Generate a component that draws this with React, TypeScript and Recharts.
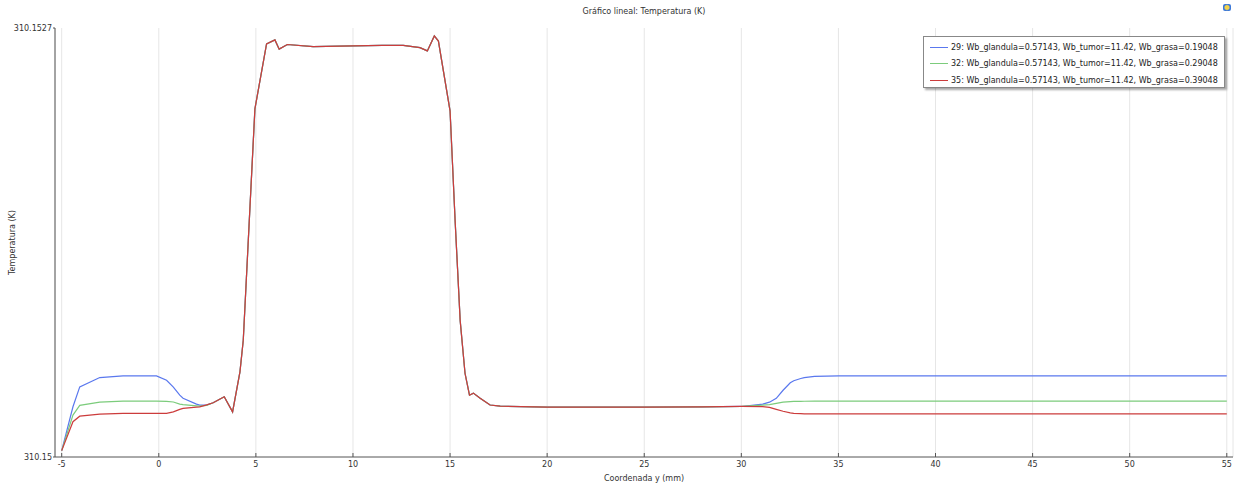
import React from 'react';
import { LineChart, Line, XAxis, YAxis, CartesianGrid } from 'recharts';

// y coordinate (mm)
const coordY = [
  -5, -4.42, -4.07, -3.04, -1.84, -0.12, 0.4, 0.75, 1.08, 1.25, 1.94, 2.11, 2.46, 2.8, 3.37, 3.8,
  4.18, 4.35, 4.6, 4.95, 5.55, 5.98, 6.2, 6.62, 7.95, 10.02, 11.5, 12.59, 13.45, 13.83, 14.19, 14.4,
  15.0, 15.26, 15.52, 15.77, 16.0, 16.2, 16.55, 17.06, 17.58, 20, 25, 28, 30,
  31.1, 31.45, 31.8, 32.15, 32.52, 32.7, 33.06, 33.24, 33.77, 35.02, 55,
];

// temperatura (K) por caso
const temp29 = [
  310.15004, 310.150316, 310.150441, 310.1505, 310.15051, 310.15051, 310.150483, 310.15044, 310.150389, 310.15037, 310.150333, 310.150327, 310.150327, 310.150341, 310.150379, 310.150284,
  310.150536, 310.150735, 310.15134, 310.152191, 310.1526, 310.152625, 310.152567, 310.152596, 310.152583, 310.152587, 310.152591, 310.152591, 310.152576, 310.152556, 310.15265, 310.152618,
  310.152179, 310.151488, 310.15086, 310.150527, 310.150389, 310.150402, 310.15037, 310.150327, 310.15032, 310.150314, 310.150314, 310.150316, 310.150318,
  310.150333, 310.150345, 310.150369, 310.15042, 310.150467, 310.15048, 310.150494, 310.1505, 310.150507, 310.15051, 310.15051,
];
const temp32 = [
  310.15004, 310.150264, 310.150325, 310.150345, 310.150352, 310.150352, 310.15035, 310.150346, 310.150333, 310.15033, 310.150322, 310.15032, 310.150325, 310.150341, 310.150379, 310.150284,
  310.150536, 310.150735, 310.15134, 310.152191, 310.1526, 310.152625, 310.152567, 310.152596, 310.152583, 310.152587, 310.152591, 310.152591, 310.152576, 310.152556, 310.15265, 310.152618,
  310.152179, 310.151488, 310.15086, 310.150527, 310.150389, 310.150402, 310.15037, 310.150327, 310.15032, 310.150314, 310.150314, 310.150316, 310.150318,
  310.150326, 310.15033, 310.150338, 310.150345, 310.150349, 310.15035, 310.15035, 310.150351, 310.150352, 310.150352, 310.150352,
];
const temp35 = [
  310.15004, 310.150222, 310.150257, 310.15027, 310.150274, 310.150274, 310.150275, 310.150284, 310.1503, 310.150306, 310.150314, 310.150316, 310.150328, 310.150341, 310.150379, 310.150284,
  310.150536, 310.150735, 310.15134, 310.152191, 310.1526, 310.152625, 310.152567, 310.152596, 310.152583, 310.152587, 310.152591, 310.152591, 310.152576, 310.152556, 310.15265, 310.152618,
  310.152179, 310.151488, 310.15086, 310.150527, 310.150389, 310.150402, 310.15037, 310.150327, 310.15032, 310.150314, 310.150314, 310.150316, 310.150318,
  310.150317, 310.150312, 310.1503, 310.150288, 310.150278, 310.150275, 310.150273, 310.150272, 310.150272, 310.150272, 310.150272,
];

const xTicks = [-5, 0, 5, 10, 15, 20, 25, 30, 35, 40, 45, 50, 55];
const yTicks = [310.15, 310.1527];
const yTickLabels = ['310.15', '310.1527'];

const series = [
  { key: 't29', name: '29: Wb_glandula=0.57143, Wb_tumor=11.42, Wb_grasa=0.19048', color: '#5a78ee' },
  { key: 't32', name: '32: Wb_glandula=0.57143, Wb_tumor=11.42, Wb_grasa=0.29048', color: '#7ccc7c' },
  { key: 't35', name: '35: Wb_glandula=0.57143, Wb_tumor=11.42, Wb_grasa=0.39048', color: '#cc3c3c' },
];

const data = coordY.map((y, i) => ({ y, t29: temp29[i], t32: temp32[i], t35: temp35[i] }));

const font = '"DejaVu Sans", sans-serif';
const axisColor = '#555';
const tickStyle = { fontSize: 8, fill: '#333', fontFamily: font };

const App = () => {
  return (
    <div style={{ position: 'absolute', left: 0, top: 0, width: 1241, height: 485, background: '#fff', fontFamily: font }}>
      <div style={{ position: 'absolute', left: 0, top: 7, width: 1288, textAlign: 'center', fontSize: 8, color: '#333' }}>
        Gráfico lineal: Temperatura (K)
      </div>
      <div style={{
        position: 'absolute', left: 1223, top: 4, width: 8, height: 7, borderRadius: 2,
        background: 'radial-gradient(circle, #f2d24a 35%, #3b78d8 60%)',
      }} />
      <LineChart width={1241} height={485} data={data} margin={{ top: 28, right: 8, bottom: 0, left: 0 }}>
        <CartesianGrid horizontal={false} stroke="#e6e6e6" />
        <XAxis
          dataKey="y"
          type="number"
          domain={[-5.345, 55.32]}
          ticks={xTicks}
          allowDataOverflow
          height={28}
          stroke={axisColor}
          tickSize={-4}
          tickMargin={8}
          tick={tickStyle}
          label={{ value: 'Coordenada y (mm)', position: 'insideBottom', offset: 4, style: { fontSize: 8, fill: '#333', fontFamily: font } }}
        />
        <XAxis
          xAxisId="top"
          orientation="top"
          dataKey="y"
          type="number"
          domain={[-5.345, 55.32]}
          ticks={xTicks}
          allowDataOverflow
          height={0}
          stroke={axisColor}
          tickSize={-4}
          tickFormatter={() => ''}
        />
        <YAxis
          type="number"
          domain={[310.15, 310.1527]}
          ticks={yTicks}
          allowDataOverflow
          width={55}
          stroke={axisColor}
          tickSize={2}
          tickMargin={1}
          tick={tickStyle}
          tickFormatter={(v: number) => yTickLabels[yTicks.indexOf(v)] ?? String(v)}
          label={{ value: 'Temperatura (K)', angle: -90, position: 'insideLeft', offset: 12, style: { fontSize: 8, fill: '#333', fontFamily: font, textAnchor: 'middle' } }}
        />
        <YAxis
          yAxisId="r"
          orientation="right"
          type="number"
          domain={[310.15, 310.1527]}
          width={0}
          stroke={axisColor}
          tick={false}
          tickLine={false}
        />
        {series.map(s => (
          <Line
            key={s.key}
            type="linear"
            dataKey={s.key}
            stroke={s.color}
            strokeWidth={1.2}
            dot={false}
            isAnimationActive={false}
          />
        ))}
      </LineChart>
      <div style={{
        position: 'absolute', left: 923, top: 36, width: 300, height: 50, background: '#fff',
        border: '1px solid #888', boxShadow: '2px 2px 2px rgba(0,0,0,0.35)', fontSize: 8, color: '#222',
      }}>
        {series.map((s, i) => (
          <div key={s.key} style={{ position: 'absolute', left: 6, top: 4 + i * 16.5, height: 12, display: 'flex', alignItems: 'center', whiteSpace: 'nowrap' }}>
            <span style={{ display: 'inline-block', width: 18, height: 0, borderTop: `1.5px solid ${s.color}`, marginRight: 3 }} />
            {s.name}
          </div>
        ))}
      </div>
    </div>
  );
};

export default App;
